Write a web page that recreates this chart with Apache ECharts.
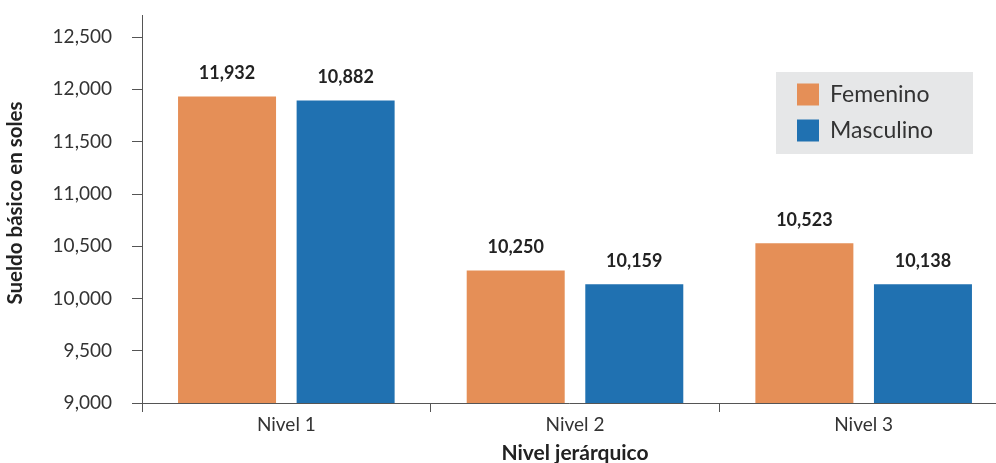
<!DOCTYPE html>
<html>
<head>
<meta charset="utf-8">
<script src="https://cdn.jsdelivr.net/npm/echarts@6/dist/echarts.min.js"></script>
<style>
  html, body { margin: 0; padding: 0; background: #fff; }
  #chart { width: 996px; height: 463px; }
</style>
</head>
<body>
<div id="chart"></div>
<script>
// categories and values
const niveles = ['Nivel 1', 'Nivel 2', 'Nivel 3']
const femenino = [11932, 10268, 10528]
const masculino = [11892, 10136, 10136]
// the printed labels (as they appear in the source)
const femeninoTxt = ['11,932', '10,250', '10,523']
const masculinoTxt = ['10,882', '10,159', '10,138']
const yTicks = { min: 9000, max: 12500, step: 500 }

const FONT = 'Lato'
const chart = echarts.init(document.getElementById('chart'))

const fmt = v => v.toLocaleString('en-US')

const barLabel = txt => ({
  show: true,
  position: 'top',
  distance: 14,
  fontFamily: FONT,
  fontWeight: 'bold',
  fontSize: 18,
  color: '#222',
  formatter: p => txt[p.dataIndex]
})

const option = {
  animation: false,
  grid: { left: 142, width: 866, top: 37, bottom: 60, outerBoundsMode: 'none', containLabel: false },
  legend: {
    orient: 'vertical',
    left: 776,
    top: 72,
    backgroundColor: '#e6e7e8',
    padding: [11, 40, 12, 21],
    itemWidth: 22,
    itemHeight: 22,
    itemGap: 13,
    icon: 'rect',
    textStyle: { fontFamily: FONT, fontSize: 23, color: '#333', padding: [0, 0, 0, 6] },
    data: ['Femenino', 'Masculino']
  },
  xAxis: {
    type: 'category',
    data: niveles,
    name: 'Nivel jerárquico',
    nameLocation: 'middle',
    nameGap: 40,
    nameTextStyle: { fontFamily: FONT, fontWeight: 'bold', fontSize: 21, color: '#222' },
    axisLine: { lineStyle: { color: '#555', width: 1 } },
    axisTick: { show: true, length: 9, lineStyle: { color: '#555' } },
    axisLabel: { fontFamily: FONT, fontSize: 19, color: '#333', margin: 12 }
  },
  yAxis: {
    type: 'value',
    min: yTicks.min,
    max: yTicks.max,
    interval: yTicks.step,
    name: 'Sueldo básico en soles',
    nameLocation: 'middle',
    nameGap: 116,
    nameTextStyle: { fontFamily: FONT, fontWeight: 'bold', fontSize: 20.5, color: '#222', padding: [0, 0, 0, 34] },
    splitLine: { show: false },
    axisLine: { show: true, lineStyle: { color: '#555', width: 1 } },
    axisTick: { show: true, inside: false, length: 10, lineStyle: { color: '#555' } },
    axisLabel: { fontFamily: FONT, fontSize: 19, color: '#333', margin: 30, formatter: fmt }
  },
  graphic: [{
    type: 'line',
    shape: { x1: 142.5, y1: 15, x2: 142.5, y2: 37 },
    style: { stroke: '#555', lineWidth: 1 }
  }],
  series: [
    {
      name: 'Femenino',
      type: 'bar',
      data: femenino,
      barWidth: 98,
      barGap: '21%',
      itemStyle: { color: '#e58f57' },
      label: barLabel(femeninoTxt)
    },
    {
      name: 'Masculino',
      type: 'bar',
      data: masculino,
      barWidth: 98,
      itemStyle: { color: '#2071b1' },
      label: barLabel(masculinoTxt)
    }
  ]
}

chart.setOption(option)
</script>
</body>
</html>
